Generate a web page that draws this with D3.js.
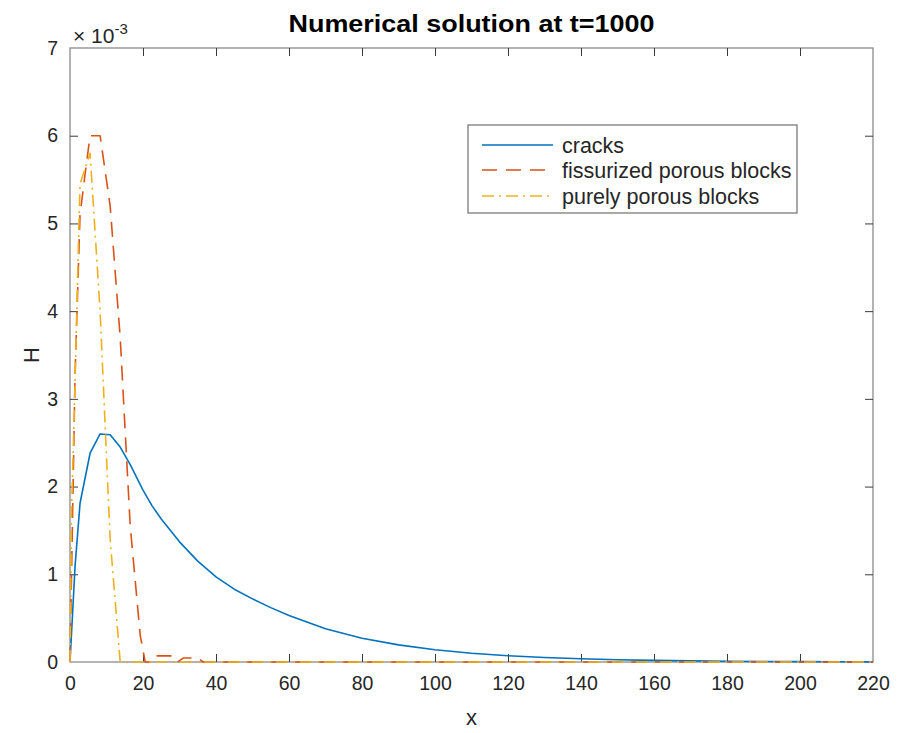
<!DOCTYPE html>
<html>
<head>
<meta charset="utf-8">
<script src="https://cdn.jsdelivr.net/npm/d3@7"></script>
<style>
  html, body { margin: 0; padding: 0; background: #ffffff; }
  svg { display: block; font-family: "Liberation Sans", Arial, Helvetica, sans-serif; }
</style>
</head>
<body>
<svg id="chart" width="898" height="733"></svg>
<script>
// ---- data (H in units of 1e-3) ----
const crackX = [0, 1.4, 2.75, 5.5, 8.25, 11, 13.75, 16.5, 20, 22.5, 25, 30, 35, 40, 45, 50, 55, 60, 70, 80, 90, 100, 110, 120, 130, 140, 150, 160, 170, 180, 190, 200, 210, 220];
const crackH = [0, 1.1, 1.81, 2.38, 2.6, 2.59, 2.45, 2.25, 1.96, 1.78, 1.63, 1.37, 1.15, 0.97, 0.83, 0.72, 0.62, 0.53, 0.38, 0.27, 0.195, 0.14, 0.10, 0.072, 0.052, 0.037, 0.026, 0.019, 0.013, 0.009, 0.006, 0.004, 0.003, 0.002];

const fissX = [0, 1.4, 2.75, 4.1, 5.5, 8.25, 11, 13.75, 16.5, 19.25, 20.6, 22, 23.3, 28, 29.5, 31, 35, 36.5, 220];
const fissH = [0, 3.3, 5.1, 5.55, 6.0, 6.0, 5.2, 3.7, 1.55, 0.3, 0, 0, 0.07, 0.07, 0, 0.045, 0.045, 0, 0];

const poreX = [0, 0.4, 1.4, 2.2, 2.75, 5.5, 8.25, 11, 13.75, 220];
const poreH = [0, 1.7, 3.2, 4.6, 5.45, 5.8, 4.0, 1.4, 0, 0];

const xTicks = [0, 20, 40, 60, 80, 100, 120, 140, 160, 180, 200, 220];
const yTicks = [0, 1, 2, 3, 4, 5, 6, 7];
const seriesNames = ["cracks", "fissurized porous blocks", "purely porous blocks"];
const titleText = "Numerical solution at t=1000";

// ---- layout ----
const svg = d3.select("#chart");
const L = 70, R = 873, T = 48, B = 662;
const x = d3.scaleLinear().domain([0, 220]).range([L, R]);
const y = d3.scaleLinear().domain([0, 7]).range([B, T]);

const axisColor = "#8a8a8a";
const tickColor = "#3a3a3a";
const textColor = "#262626";
const fontSize = 19.5;
const tickLen = 8;

// axes box
svg.append("rect").attr("x", L).attr("y", T).attr("width", R - L).attr("height", B - T)
  .attr("fill", "none").attr("stroke", axisColor).attr("stroke-width", 1.3);

const xAxisB = d3.axisBottom(x).tickValues(xTicks).tickSizeInner(-tickLen).tickSizeOuter(0).tickPadding(14);
const gxb = svg.append("g").attr("transform", `translate(0,${B})`).call(xAxisB);
const xAxisT = d3.axisTop(x).tickValues(xTicks).tickSizeInner(-tickLen).tickSizeOuter(0).tickFormat("");
const gxt = svg.append("g").attr("transform", `translate(0,${T})`).call(xAxisT);
const yAxisL = d3.axisLeft(y).tickValues(yTicks).tickFormat(d3.format("d")).tickSizeInner(-tickLen).tickSizeOuter(0).tickPadding(12);
const gyl = svg.append("g").attr("transform", `translate(${L},0)`).call(yAxisL);
const yAxisR = d3.axisRight(y).tickValues(yTicks).tickSizeInner(-tickLen).tickSizeOuter(0).tickFormat("");
const gyr = svg.append("g").attr("transform", `translate(${R},0)`).call(yAxisR);

[gxb, gxt, gyl, gyr].forEach(g => {
  g.select(".domain").remove();
  g.selectAll(".tick line").attr("stroke", tickColor).attr("stroke-width", 1);
  g.selectAll(".tick text").attr("fill", textColor).attr("font-size", fontSize)
    .attr("font-family", "'Liberation Sans', Arial, Helvetica, sans-serif");
});
gxb.selectAll(".tick").filter(d => d === 0 || d === 220).select("line").remove();
gxt.selectAll(".tick").filter(d => d === 0 || d === 220).select("line").remove();
gyl.selectAll(".tick").filter(d => d === 0 || d === 7).select("line").remove();
gyr.selectAll(".tick").filter(d => d === 0 || d === 7).select("line").remove();

// exponent label
const ex = svg.append("text").attr("x", L + 3).attr("y", T - 5)
  .attr("fill", textColor).attr("font-size", 21);
ex.append("tspan").text("\u00d7 10");
ex.append("tspan").attr("dy", -9).attr("font-size", 15).text("-3");

// title
svg.append("text").attr("x", (L + R) / 2).attr("y", 32).attr("text-anchor", "middle")
  .attr("font-weight", "bold").attr("font-size", 23.5).attr("fill", "#000")
  .attr("textLength", 366).attr("lengthAdjust", "spacingAndGlyphs").text(titleText);

// axis labels
svg.append("text").attr("x", (L + R) / 2).attr("y", 725).attr("text-anchor", "middle")
  .attr("font-size", 22).attr("fill", textColor).text("x");
svg.append("text").attr("transform", `translate(39,${(T + B) / 2}) rotate(-90)`)
  .attr("text-anchor", "middle").attr("font-size", 22).attr("fill", textColor).text("H");

// lines
const styles = [
  { color: "#0072BD", dash: null },
  { color: "#D95319", dash: "15,9" },
  { color: "#EDB120", dash: "12,5,2,5" }
];
const seriesData = [
  crackX.map((v, i) => [v, crackH[i]]),
  fissX.map((v, i) => [v, fissH[i]]),
  poreX.map((v, i) => [v, poreH[i]])
];
const line = d3.line().x(d => x(d[0])).y(d => y(d[1]));
seriesData.forEach((data, i) => {
  svg.append("path").datum(data).attr("d", line)
    .attr("fill", "none").attr("stroke", styles[i].color).attr("stroke-width", 1.6)
    .attr("stroke-dasharray", styles[i].dash).attr("stroke-linejoin", "round");
});

// legend
const lg = svg.append("g");
lg.append("rect").attr("x", 468).attr("y", 125).attr("width", 329).attr("height", 88)
  .attr("fill", "#fff").attr("stroke", "#7a7a7a").attr("stroke-width", 1.3);
const rowY = [145, 170, 196];
seriesNames.forEach((name, i) => {
  lg.append("line").attr("x1", 482).attr("x2", 553).attr("y1", rowY[i]).attr("y2", rowY[i])
    .attr("stroke", styles[i].color).attr("stroke-width", 1.6).attr("stroke-dasharray", styles[i].dash);
  lg.append("text").attr("x", 562).attr("y", rowY[i]).attr("dy", "0.35em")
    .attr("font-size", 21.5).attr("fill", textColor).text(name);
});
</script>
</body>
</html>
